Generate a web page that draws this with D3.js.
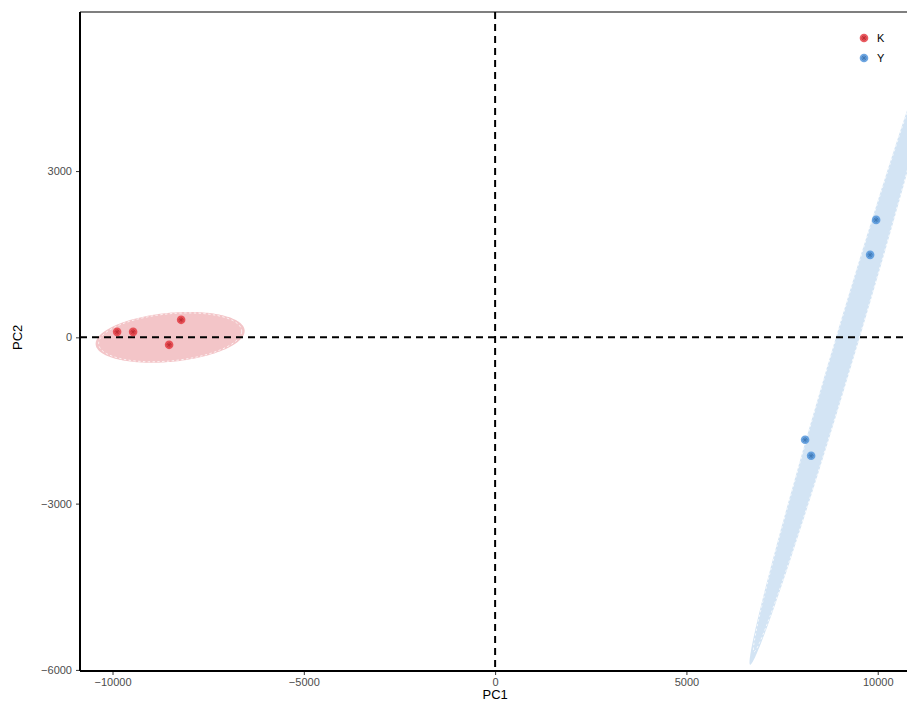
<!DOCTYPE html>
<html><head><meta charset="utf-8">
<script src="https://cdn.jsdelivr.net/npm/d3@7"></script>
<style>body{margin:0;background:#fff}svg{display:block}text{font-family:"Liberation Sans",Arial,sans-serif}</style>
</head><body><svg id="c" width="907" height="703"></svg>
<script>
// data
const groups = ["K", "Y"];
const colors = ["#E3333B", "#4A90D9"];
const fills = ["#F3C5C8", "#D3E4F4"];
const pc1K = [-9880, -9462, -8521, -8207];
const pc2K = [99, 99, -135, 316];
const pc1Y = [9958, 9801, 8102, 8259];
const pc2Y = [2119, 1488, -1849, -2137];
// ellipse: center, two conjugate half-axis vectors (data units)
const ellK = {c: [-8494, 0], u: [1947, 104], v: [50, 447]};
const ellY = {c: [9200, -45], u: [-2535, -5862], v: [287, -60]};
const xTicks = [-10000, -5000, 0, 5000, 10000];
const yTicks = [-6000, -3000, 0, 3000];

const svg = d3.select("#c");
const L = 80, T = 12, B = 671;
const x = d3.scaleLinear().domain([-10850, 11800]).range([L, L + 22650 * 0.03826]);
const y = d3.scaleLinear().domain([-6020, 5870]).range([B, T]);

svg.append("defs").append("clipPath").attr("id", "clip")
  .append("rect").attr("x", L).attr("y", T).attr("width", 1000).attr("height", B - T);

const g = svg.append("g").attr("clip-path", "url(#clip)");

function ellPts(e) {
  const pts = [];
  for (let i = 0; i <= 200; i++) {
    const t = i / 200 * 2 * Math.PI;
    pts.push([e.c[0] + e.u[0] * Math.cos(t) + e.v[0] * Math.sin(t),
              e.c[1] + e.u[1] * Math.cos(t) + e.v[1] * Math.sin(t)]);
  }
  return pts;
}
const line = d3.line().x(d => x(d[0])).y(d => y(d[1]));
[ellK, ellY].forEach((e, i) => {
  g.append("path").attr("d", line(ellPts(e)) + "Z")
    .attr("fill", fills[i]).attr("stroke", "none");
  g.append("path").attr("d", line(ellPts(e)) + "Z")
    .attr("fill", "none").attr("stroke", "#fff").attr("stroke-width", 0.9)
    .attr("stroke-dasharray", "2.5,2.5").attr("opacity", 0.9)
    .attr("transform", `translate(${x(e.c[0])},${y(e.c[1])}) scale(0.96) translate(${-x(e.c[0])},${-y(e.c[1])})`);
});

// dashed reference lines
g.append("line").attr("x1", x(0)).attr("x2", x(0)).attr("y1", T).attr("y2", B)
  .attr("stroke", "#000").attr("stroke-width", 2).attr("stroke-dasharray", "7,5");
g.append("line").attr("x1", L).attr("x2", 907).attr("y1", y(0)).attr("y2", y(0))
  .attr("stroke", "#000").attr("stroke-width", 2).attr("stroke-dasharray", "7,5");

function marker(sel, cx, cy, col) {
  sel.append("circle").attr("cx", cx).attr("cy", cy).attr("r", 4.3).attr("fill", col).attr("opacity", 0.8);
  const s = 2.7;
  for (let k = 0; k < 4; k++) {
    const a = k * Math.PI / 4;
    sel.append("line").attr("x1", cx - s * Math.cos(a)).attr("y1", cy - s * Math.sin(a))
      .attr("x2", cx + s * Math.cos(a)).attr("y2", cy + s * Math.sin(a))
      .attr("stroke", d3.color(col).darker(0.5)).attr("stroke-width", 0.9);
  }
}
pc1K.forEach((v, i) => marker(g, x(v), y(pc2K[i]), colors[0]));
pc1Y.forEach((v, i) => marker(g, x(v), y(pc2Y[i]), colors[1]));

// axes
const fmt = d => d < 0 ? "\u2212" + Math.abs(d) : d;
const xAxis = d3.axisBottom(x).tickValues(xTicks).tickSize(4).tickPadding(3).tickSizeOuter(0).tickFormat(fmt);
const yAxis = d3.axisLeft(y).tickValues(yTicks).tickSize(4).tickPadding(4).tickSizeOuter(0).tickFormat(fmt);
const gx = svg.append("g").attr("transform", `translate(0,${B})`).call(xAxis);
const gy = svg.append("g").attr("transform", `translate(${L},0)`).call(yAxis);
[gx, gy].forEach(a => {
  a.select(".domain").remove();
  a.selectAll(".tick line").attr("stroke", "#333").attr("stroke-width", 1);
  a.selectAll(".tick text").attr("fill", "#4D4D4D").attr("font-size", 11);
});

// panel border lines
svg.append("line").attr("x1", L).attr("x2", 907).attr("y1", B).attr("y2", B).attr("stroke", "#000").attr("stroke-width", 2);
svg.append("line").attr("x1", L).attr("x2", L).attr("y1", T).attr("y2", B).attr("stroke", "#000").attr("stroke-width", 2);
svg.append("line").attr("x1", L).attr("x2", 907).attr("y1", T).attr("y2", T).attr("stroke", "#000").attr("stroke-width", 1.2);

// titles
svg.append("text").attr("x", x(0)).attr("y", 699).attr("text-anchor", "middle").attr("font-size", 13).attr("fill", "#000").text("PC1");
svg.append("text").attr("transform", `translate(22,${y(0)}) rotate(-90)`).attr("text-anchor", "middle").attr("font-size", 13).attr("fill", "#000").text("PC2");

// legend
const lg = svg.append("g");
groups.forEach((gname, i) => {
  const ly = 38 + i * 20;
  marker(lg, 864, ly, colors[i]);
  lg.append("text").attr("x", 877).attr("y", ly).attr("dy", "0.35em").attr("font-size", 11).attr("fill", "#000").text(gname);
});
</script></body></html>
